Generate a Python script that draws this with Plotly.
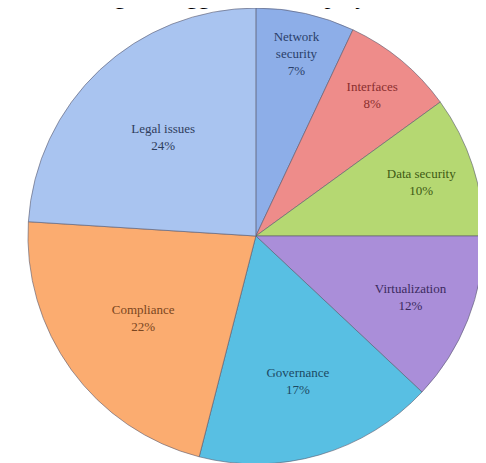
import plotly.graph_objects as go

categories = ["Network security", "Interfaces", "Data security", "Virtualization",
              "Governance", "Compliance", "Legal issues"]
display_text = ["Network<br>security", "Interfaces", "Data security", "Virtualization",
                "Governance", "Compliance", "Legal issues"]
values = [7, 8, 10, 12, 17, 22, 24]
slice_colors = ["#8DAEE8", "#EE8C8A", "#B5D872", "#AA8ED9", "#58BFE3", "#FBAC70", "#A9C4F0"]
text_colors = ["#2A3F6A", "#8A2E2E", "#3E5A14", "#3B2A5E", "#1C4A63", "#7A4620", "#2E3D5C"]
title_text = "Issues among the biggest cloud deployment concerns"

fig = go.Figure(go.Pie(
    labels=categories,
    values=values,
    text=display_text,
    sort=False,
    direction="clockwise",
    rotation=0,
    marker=dict(colors=slice_colors, line=dict(color="rgba(90,90,110,0.6)", width=1)),
    texttemplate="%{text}<br>%{percent:.0%}",
    textposition="inside",
    insidetextorientation="horizontal",
    textfont=dict(family="Liberation Serif", size=13, color=text_colors),
    domain=dict(x=[0.041, 0.979], y=[0.015, 1.0]),
    showlegend=False,
    hoverinfo="label+percent",
))

fig.add_annotation(
    text=title_text, x=0.5, y=1, xref="paper", yref="paper",
    xanchor="center", yanchor="bottom", yshift=-3, showarrow=False,
    font=dict(family="Liberation Serif", size=24, color="black"),
)

fig.update_layout(
    width=486, height=463,
    margin=dict(l=0, r=0, t=0, b=0),
    paper_bgcolor="white", plot_bgcolor="white",
)
fig.write_html("out.html")
